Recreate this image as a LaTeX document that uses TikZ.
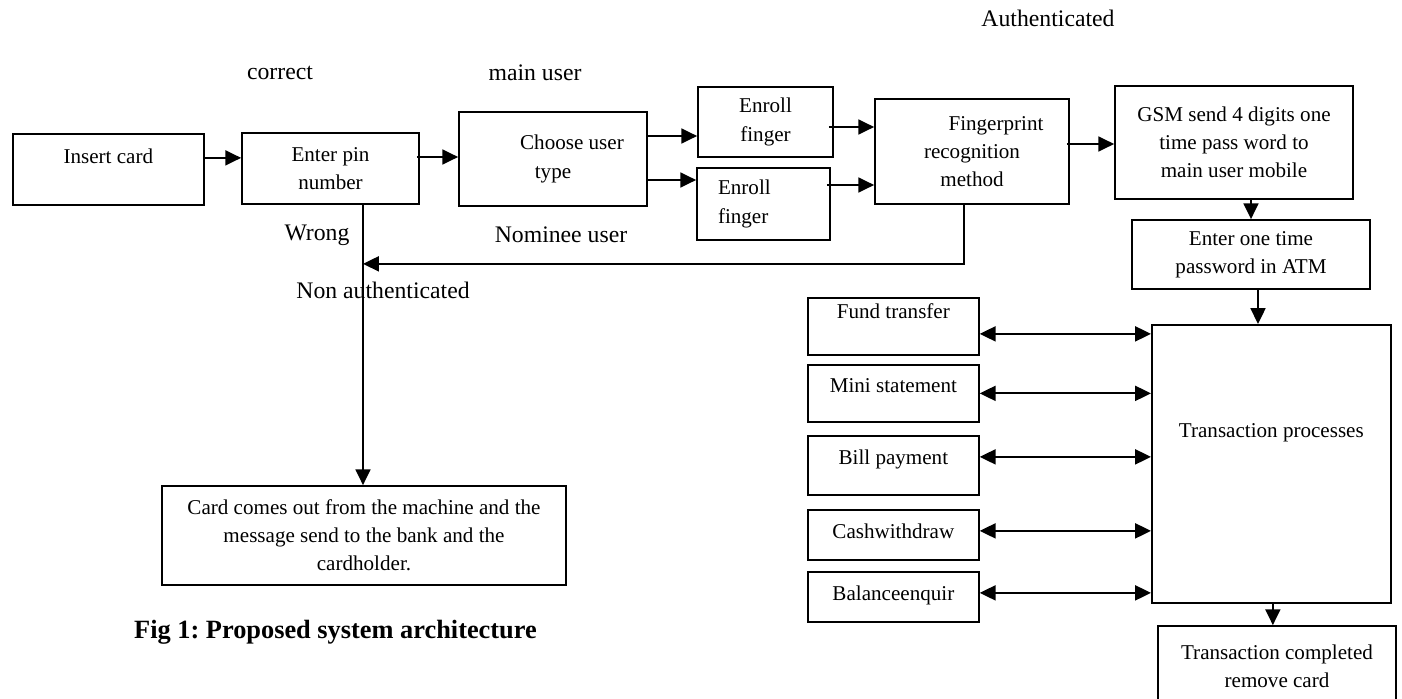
\documentclass[tikz,border=0pt]{standalone}
\usepackage{fontspec}
\setmainfont{Liberation Serif}
\usepackage{tikz}
\usetikzlibrary{shapes.geometric, arrows.meta, positioning, calc}
\tikzstyle{arrow} = [line width=1.1pt,-{Triangle[length=9pt,width=8.5pt]}]
\tikzstyle{twoway} = [line width=1.1pt,{Triangle[length=9pt,width=8.5pt]}-{Triangle[length=9pt,width=8.5pt]}]
\frenchspacing

\begin{document}
\begin{tikzpicture}[
    x=0.02cm, y=-0.02cm,
    box/.style={rectangle, draw, line width=1pt, align=center, fill=white, font=\fontsize{12}{16}\selectfont},
    option/.style={box, anchor=north west, inner sep=0pt, minimum width=3.42cm},
    lbl/.style={font=\fontsize{13.5}{16}\selectfont}
]
    \path[use as bounding box, fill=white] (0,0) rectangle (1402,699);

    % card and pin
    \node[box, anchor=north west, inner sep=0pt, minimum width=3.82cm, text height=0.6cm, text depth=0.82cm] (insert) at (12,133) {Insert card};
    \node[box, minimum width=3.54cm, minimum height=1.42cm] (pin) at (330.5,168.5) {Enter pin\\number};
    \node[box, minimum width=3.76cm, minimum height=1.88cm] (choose) at (553,159) {\hspace*{0.76cm}Choose user\\type};
    \node[box, minimum width=2.7cm, minimum height=1.4cm] (enrollA) at (765.5,122) {Enroll\\finger};
    \node[box, minimum height=1.44cm, inner xsep=0.42cm, text width=1.82cm, align=left] (enrollB) at (763.5,204) {Enroll\\finger};
    \node[box, minimum width=3.88cm, minimum height=2.1cm] (fprint) at (972,151.5) {\hspace*{0.96cm}Fingerprint\\recognition\\method};

    % one time password
    \node[box, minimum width=4.76cm, minimum height=2.26cm] (gsm) at (1234,142.5) {GSM send 4 digits one\\time pass word to\\main user mobile};
    \node[box, minimum width=4.76cm, minimum height=1.38cm] (otp) at (1251,254.5) {Enter one time\\password in ATM};

    % transactions
    \node[box, anchor=north west, inner sep=0pt, minimum width=4.78cm, text height=2.26cm, text depth=3.3cm] (trans) at (1151,324) {Transaction processes};
    \node[option, text height=0.42cm, text depth=0.72cm] (fund) at (807,297) {Fund transfer};
    \node[option, text height=0.56cm, text depth=0.58cm] (mini) at (807,364) {Mini statement};
    \node[option, text height=0.58cm, text depth=0.6cm] (bill) at (807,435) {Bill payment};
    \node[option, text height=0.58cm, text depth=0.42cm] (cash) at (807,509) {Cashwithdraw};
    \node[option, text height=0.58cm, text depth=0.42cm] (balance) at (807,571) {Balanceenquir};
    \node[box, minimum width=4.76cm, minimum height=1.6cm] (done) at (1277,666) {Transaction completed\\remove card};

    % rejected card
    \node[box, minimum width=8.08cm, minimum height=1.98cm] (cardout) at (364,535.5) {Card comes out from the machine and the\\message send to the bank and the\\cardholder.};

    % labels
    \node[lbl] (correct) at (280,73) {correct};
    \node[lbl] (mainuser) at (535,73) {main user};
    \node[lbl] (authok) at (1048,18) {Authenticated};
    \node[lbl] (nominee) at (561,235) {Nominee user};
    \node[lbl] (wrong) at (317,235) {Wrong};
    \node[lbl] (authfail) at (383,290) {Non authenticated};
    \node[anchor=west, font=\fontsize{15}{18}\selectfont\bfseries] (caption) at (128,632) {Fig 1: Proposed system architecture};

    \coordinate (join) at ([xshift=0.65cm, yshift=-1.18cm]pin.south);

    \draw[arrow] ([yshift=0.23cm]insert.east) -- ([yshift=0.23cm]insert.east -| pin.west);
    \draw[arrow] ([yshift=0.23cm, xshift=-0.06cm]pin.east) -- ([yshift=0.23cm]pin.east -| choose.west);
    \draw[arrow] ([yshift=0.46cm]choose.east) -- ([yshift=0.46cm]choose.east -| enrollA.west);
    \draw[arrow] ([yshift=-0.42cm]choose.east) -- ([yshift=-0.42cm]choose.east -| enrollB.west);
    \draw[arrow] ([yshift=-0.1cm, xshift=-0.1cm]enrollA.east) -- ([yshift=-0.1cm]enrollA.east -| fprint.west);
    \draw[arrow] ([yshift=0.38cm, xshift=-0.08cm]enrollB.east) -- ([yshift=0.38cm]enrollB.east -| fprint.west);
    \draw[arrow] ([yshift=0.15cm, xshift=-0.06cm]fprint.east) -- ([yshift=0.15cm]fprint.east -| gsm.west);
    \draw[arrow] ([xshift=0.34cm]gsm.south) -- ([xshift=0.34cm]gsm.south |- otp.north);
    \draw[arrow] ([xshift=0.14cm]otp.south) -- ([xshift=0.14cm]otp.south |- trans.north);
    \draw[arrow] ([xshift=-0.16cm]fprint.south) |- (join);
    \draw[arrow] ([xshift=0.65cm]pin.south) -- ([xshift=0.65cm]pin.south |- cardout.north);

    \draw[twoway] ([yshift=-0.15cm]fund.east) -- ([yshift=-0.15cm]fund.east -| trans.west);
    \draw[twoway] (mini.east) -- (mini.east -| trans.west);
    \draw[twoway] ([yshift=0.17cm]bill.east) -- ([yshift=0.17cm]bill.east -| trans.west);
    \draw[twoway] ([yshift=0.08cm]cash.east) -- ([yshift=0.08cm]cash.east -| trans.west);
    \draw[twoway] ([yshift=0.08cm]balance.east) -- ([yshift=0.08cm]balance.east -| trans.west);
    \draw[arrow] ([xshift=0.03cm]trans.south) -- ([xshift=0.03cm]trans.south |- done.north);
\end{tikzpicture}
\end{document}
